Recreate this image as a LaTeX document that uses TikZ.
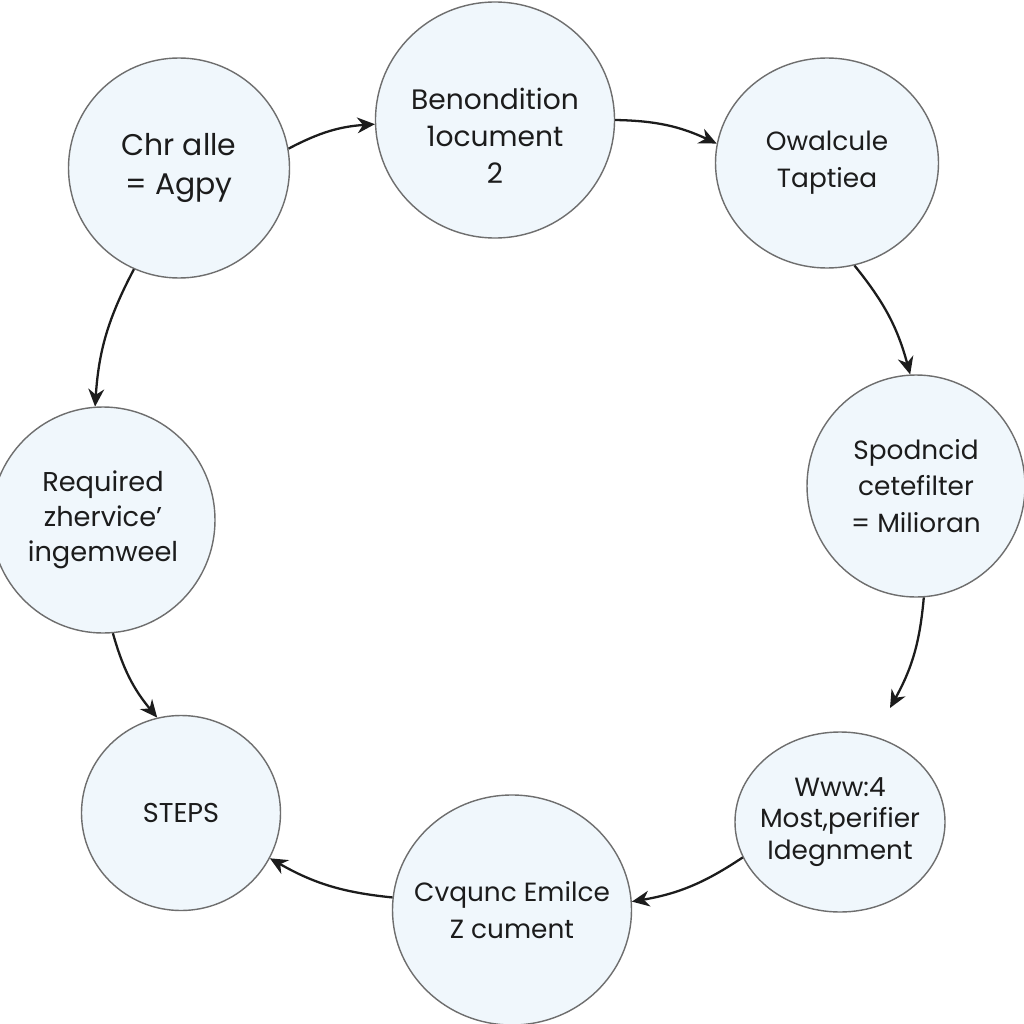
\documentclass[tikz,border=0pt]{standalone}
\usepackage{fontspec}
\setmainfont{Poppins}
\usepackage{xcolor}
\usepackage{tikz}
\usetikzlibrary{arrows.meta,shapes.geometric}

\definecolor{stagefill}{HTML}{F0F7FC}
\definecolor{stageline}{HTML}{6E6E6E}
\definecolor{inkblack}{HTML}{1C1C1C}

\begin{document}
\begin{tikzpicture}[x=0.02cm, y=-0.02cm,
    stage/.style={ellipse, draw=stageline, line width=0.8pt, fill=stagefill, text=inkblack,
        align=center, inner sep=-1.2cm, font=\fontsize{15}{21}\selectfont},
    dims/.style 2 args={minimum width=#1*0.02cm, minimum height=#2*0.02cm},
    flow/.style={-{Stealth[length=10pt,width=9pt]}, line width=1.3pt, inkblack}]
\useasboundingbox[fill=white] (0,0) rectangle (1024,1024);

\node[stage, dims={221}{220}, font=\fontsize{17}{22}\selectfont] (challenge) at (179,168) {Chr alle\\= Agpy};
\node[stage, dims={239}{236}, font=\fontsize{16}{21}\selectfont, text height=72pt] (condition) at (495,120) {Benondition\\1ocument\\2};
\node[stage, dims={223}{210}] (calc) at (827,163) {Owalcule\\Taptiea};
\node[stage, dims={218}{222}] (spec) at (916,486) {Spodncid\\cetefilter\\= Milioran};
\node[stage, dims={210}{180}, font=\fontsize{15}{18}\selectfont] (verify) at (840,822) {Www:4\\Most,perifier\\Idegnment};
\node[stage, dims={239}{230}] (sequence) at (512,910) {Cvqunc Emilce\\Z cument};
\node[stage, dims={199}{195}, font=\fontsize{15.5}{18}\selectfont] (steps) at (181,813) {STEPS};
\node[stage, dims={224}{226}, font=\fontsize{15.5}{20}\selectfont] (required) at (103,520) {Required\\zhervice'\\ingemweel};

\coordinate (verifyin) at (890,708);

\draw[flow] (challenge.10) to[bend left=12] (condition.182);
\draw[flow] (condition.0) to[bend left=12] (calc.170);
\draw[flow] (calc.-75) to[bend left=12] (spec.93);
\draw[flow] (spec.-86) to[bend left=12] (verifyin);
\draw[flow] (verify.200) to[bend left=12] (sequence.4);
\draw[flow] (sequence.174) to[bend left=12] (steps.-27);
\draw[flow] (required.-85) to[bend right=12] (steps.104);
\draw[flow] (challenge.-114) to[bend right=12] (required.94);

\end{tikzpicture}
\end{document}
